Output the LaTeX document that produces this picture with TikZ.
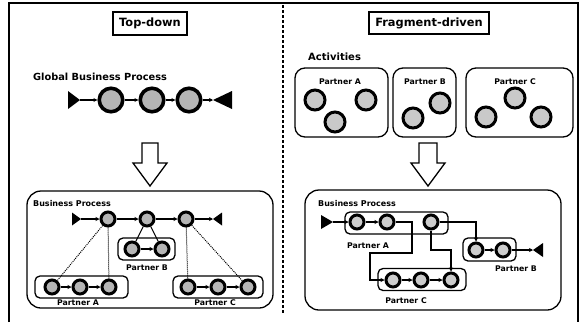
\documentclass[tikz,border=0pt]{standalone}
\usepackage{fontspec}
\setmainfont{DejaVu Sans}
\usetikzlibrary{arrows.meta}
\begin{document}
\begin{tikzpicture}[x=1pt,y=-1pt,
  act/.style={circle,draw=black,fill=gray!58,inner sep=0pt},
  big/.style={act,minimum size=23.5pt,line width=3.6pt},
  mid/.style={act,minimum size=20pt,line width=3pt,fill=gray!42},
  sml/.style={act,minimum size=14pt,line width=3pt},
  smlr/.style={sml,fill=gray!40},
  pbox/.style={draw,line width=1.3pt,rounded corners=5pt,inner sep=0pt},
  bigbox/.style={draw,line width=1.3pt,rounded corners=14pt,inner sep=0pt},
  titlebox/.style={draw,line width=1.3pt,inner sep=0pt,font=\fontsize{11.4}{12}\selectfont\bfseries},
  lbl/.style={font=\fontsize{7.8}{9}\selectfont\bfseries,inner sep=0pt},
  head/.style={font=\fontsize{8}{9}\selectfont\bfseries,inner sep=0pt,anchor=west},
  flow/.style={line width=1.2pt,-{Stealth[length=4pt,width=4pt]}},
  plain/.style={line width=1.1pt},
  link/.style={line width=1pt,densely dotted},
  hollow/.style={line width=1.3pt,fill=white}
]
\useasboundingbox (0,0) rectangle (586,322);
% frame
\draw[line width=1.1pt] (9,322) -- (9,3) -- (578,3) -- (578,322);
\draw[line width=1.1pt,densely dashed] (283,5) -- (283,313);

% titles
\node[titlebox,minimum width=74pt,minimum height=23pt] (t1) at (150,23.5) {Top-down};
\node[titlebox,minimum width=120pt,minimum height=22pt] (t2) at (429,23) {Fragment-driven};

% ===== Top-down =====
\node[font=\fontsize{9.8}{11}\selectfont\bfseries,anchor=west,inner sep=0pt] (gl) at (33,77) {Global Business Process};
\coordinate (gs) at (80,100);
\fill[shift={(gs)}] (-12,-9) -- (0,0) -- (-12,9) -- cycle;
\node[big] (g1) at (111,100) {};
\node[big] (g2) at (152,100) {};
\node[big] (g3) at (189,100) {};
\coordinate (ge) at (213,100);
\fill[shift={(ge)}] (19,-9) -- (0,0) -- (19,9) -- cycle;
\draw[flow] (gs) -- (g1);
\draw[flow] (g1) -- (g2);
\draw[flow] (g2) -- (g3);
\draw[flow] (g3) -- (ge);

\draw[hollow] (142,143) -- (158,143) -- (158,163) -- (167,163) -- (150,186) -- (133,163) -- (142,163) -- cycle;

\node[bigbox,minimum width=246pt,minimum height=117pt] (lbp) at (150,249.5) {};
\node[head] (lbpl) at (33,204) {Business Process};

\coordinate (ls) at (81,219);
\fill[shift={(ls)}] (-9,-6.5) -- (0,0) -- (-9,6.5) -- cycle;
\node[sml] (p1) at (108,219) {};
\node[sml] (p2) at (147,219) {};
\node[sml] (p3) at (186,219) {};
\coordinate (le) at (213,219);
\fill[shift={(le)}] (9,-6.5) -- (0,0) -- (9,6.5) -- cycle;
\draw[flow] (ls) -- (p1);
\draw[flow] (p1) -- (p2);
\draw[flow] (p2) -- (p3);
\draw[flow] (p3) -- (le);

% partner B
\node[pbox,minimum width=57pt,minimum height=22pt] (lbb) at (146.5,249) {};
\node[sml] (b1) at (132,249) {};
\node[sml] (b2) at (162,249) {};
\draw[flow] (b1) -- (b2);
\node[lbl] (lbbl) at (147,268) {Partner B};
\draw[plain] (p2) -- (b1);
\draw[plain] (p2) -- (b2);

% partner A
\node[pbox,minimum width=93pt,minimum height=22pt] (lba) at (81.5,287) {};
\node[sml] (a1) at (52,287) {};
\node[sml] (a2) at (80,287) {};
\node[sml] (a3) at (109,287) {};
\draw[flow] (a1) -- (a2);
\draw[flow] (a2) -- (a3);
\node[lbl] (lbal) at (78,303) {Partner A};
\draw[link] (p1) -- (a1);
\draw[link] (p1) -- (a3);

% partner C
\node[pbox,minimum width=90pt,minimum height=22pt] (lbc) at (218,287) {};
\node[sml] (c1) at (188,287) {};
\node[sml] (c2) at (218,287) {};
\node[sml] (c3) at (248,287) {};
\draw[flow] (c1) -- (c2);
\draw[flow] (c2) -- (c3);
\node[lbl] (lbcl) at (215,303) {Partner C};
\draw[link] (p3) -- (c1);
\draw[link] (p3) -- (c3);

% ===== Fragment-driven =====
\node[font=\fontsize{10}{11}\selectfont\bfseries,anchor=west,inner sep=0pt] (actl) at (308,57) {Activities};

\node[bigbox,rounded corners=10pt,minimum width=93pt,minimum height=69pt] (fa) at (341.5,102.5) {};
\node[lbl] (fal) at (340,82) {Partner A};
\node[mid] (fa1) at (315,100) {};
\node[mid] (fa2) at (335,122) {};
\node[mid] (fa3) at (366,100) {};

\node[bigbox,rounded corners=10pt,minimum width=63pt,minimum height=69pt] (fb) at (424.5,102.5) {};
\node[lbl] (fbl) at (425,82) {Partner B};
\node[mid] (fb1) at (413,118) {};
\node[mid] (fb2) at (440,103) {};

\node[bigbox,rounded corners=10pt,minimum width=107pt,minimum height=69pt] (fc) at (519.5,102.5) {};
\node[lbl] (fcl) at (515,82) {Partner C};
\node[mid] (fc1) at (486,117) {};
\node[mid] (fc2) at (515,98) {};
\node[mid] (fc3) at (541,117) {};

\draw[hollow] (419,143) -- (437,143) -- (437,163) -- (445,163) -- (428,186) -- (411,163) -- (419,163) -- cycle;

\node[bigbox,minimum width=256pt,minimum height=120pt] (rbp) at (433,250) {};
\node[head] (rbpl) at (318,204) {Business Process};

% row A
\node[pbox,minimum width=103pt,minimum height=22pt] (ra) at (396.5,223) {};
\coordinate (rs) at (333,222);
\fill[shift={(rs)}] (-12,-7) -- (0,0) -- (-12,7) -- cycle;
\node[smlr] (ra1) at (357,222) {};
\node[smlr] (ra2) at (387,222) {};
\node[smlr] (ra3) at (431,222) {};
\node[lbl] (ral) at (368,246) {Partner A};

% row B
\node[pbox,minimum width=53pt,minimum height=23pt] (rb) at (489.5,249.5) {};
\node[smlr] (rb1) at (476,250) {};
\node[smlr] (rb2) at (503,250) {};
\coordinate (re) at (533,250);
\fill[shift={(re)}] (10,-7) -- (0,0) -- (10,7) -- cycle;
\node[lbl] (rbl) at (516,269) {Partner B};

% row C
\node[pbox,minimum width=88pt,minimum height=22pt] (rc) at (422,279.5) {};
\node[smlr] (rc1) at (393,280) {};
\node[smlr] (rc2) at (421,280) {};
\node[smlr] (rc3) at (451,280) {};
\node[lbl] (rcl) at (406,301) {Partner C};

\draw[flow] (rs) -- (ra1);
\draw[flow] (ra1) -- (ra2);
\draw[flow] (ra2.east) -- (412,222) -- (412,253) -- (370,253) -- (370,280) -- (rc1.west);
\draw[flow] (ra3.south) -- (431,250) -- (451,250) -- (rc3.north);
\draw[flow] (ra3.east) -- (476,222) -- (rb1.north);
\draw[flow] (rb1) -- (rb2);
\draw[flow] (rb2) -- (re);
\draw[flow] (rc1) -- (rc2);
\draw[flow] (rc2) -- (rc3);
\end{tikzpicture}
\end{document}
